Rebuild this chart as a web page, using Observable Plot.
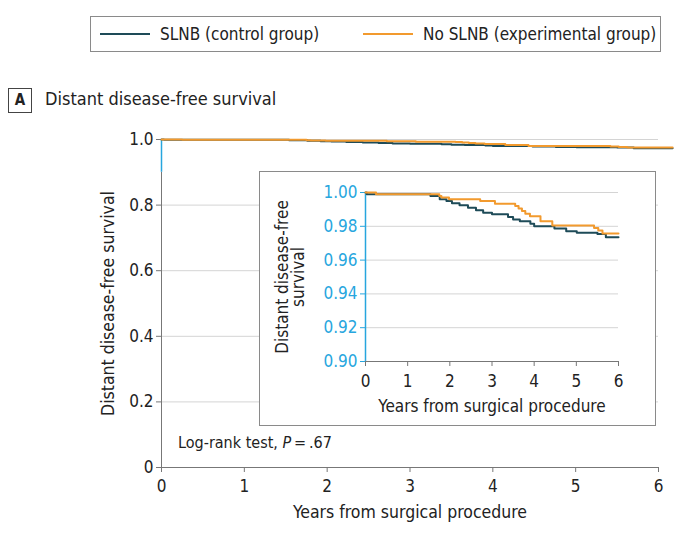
<!DOCTYPE html>
<html><head><meta charset="utf-8">
<script src="https://cdn.jsdelivr.net/npm/d3@7"></script>
<script src="https://cdn.jsdelivr.net/npm/@observablehq/plot@0.6"></script>
<style>
  html,body{margin:0;padding:0;background:#fff;}
  #wrap{position:relative;width:680px;height:544px;overflow:hidden;font-family:"Liberation Sans Narrow","DejaVu Sans Condensed","Roboto Condensed",sans-serif;color:#222;}
  .abs{position:absolute;}
  #legend{left:90px;top:16px;width:569px;height:34px;border:1px solid #8a8a8a;font-size:17px;}
  #legend .item{position:absolute;top:0;height:34px;line-height:34px;white-space:nowrap;}
  #legend .sw{display:inline-block;width:50px;height:0;border-top:2px solid;vertical-align:middle;margin-right:10px;position:relative;top:-1px;}
  #abox{left:8px;top:88px;width:22px;height:23px;border:1px solid #444;font-weight:bold;font-size:15px;text-align:center;line-height:23px;}
  #atitle{left:45px;top:87px;font-size:18px;line-height:24px;white-space:nowrap;}
  #logrank{left:178px;top:433px;font-size:16px;white-space:nowrap;}
  #main{left:0;top:120px;}
  #inset{left:259px;top:171px;border:1.5px solid #8a8a8a;background:#fff;width:395px;height:253px;}
</style>
</head><body>
<div id="wrap">
  <div id="legend" class="abs"></div>
  <div id="abox" class="abs">A</div>
  <div id="atitle" class="abs">Distant disease-free survival</div>
  <div id="main" class="abs"></div>
  <div id="inset" class="abs"></div>
  <div id="logrank" class="abs">Log-rank test, <i>P</i>&thinsp;=&thinsp;.67</div>
</div>
<script>
const groups = ["SLNB (control group)", "No SLNB (experimental group)"];
const colors = ["#1e4b58", "#f29a2e"];
const blue = "#27a6de";

const slnbYears = [0, 0.03, 1.54, 1.76, 1.92, 2.05, 2.23, 2.43, 2.62, 2.79, 3.00, 3.38, 3.50, 3.66, 3.91, 4.00, 4.48, 4.76, 5.01, 5.50, 5.70];
const slnbSurv  = [1.000, 0.999, 0.998, 0.996, 0.995, 0.9937, 0.9924, 0.991, 0.9895, 0.988, 0.9872, 0.9855, 0.984, 0.983, 0.9815, 0.980, 0.9787, 0.977, 0.9762, 0.9755, 0.9735];

const noSlnbYears = [0, 0.25, 1.75, 1.80, 1.98, 2.72, 3.07, 3.55, 3.63, 3.71, 3.79, 3.90, 4.15, 4.43, 5.42, 5.52, 5.62];
const noSlnbSurv  = [1.000, 0.999, 0.998, 0.997, 0.996, 0.995, 0.9933, 0.992, 0.9905, 0.989, 0.9875, 0.986, 0.983, 0.9805, 0.979, 0.9775, 0.9757];

const mainEnd = 6.17;   // follow-up shown beyond last tick in main panel
const insetEnd = 6;

const xTicks = [0, 1, 2, 3, 4, 5, 6];
const mainYTicks = [0, 0.2, 0.4, 0.6, 0.8, 1.0];
const insetYTicks = [0.90, 0.92, 0.94, 0.96, 0.98, 1.00];
const xLabel = "Years from surgical procedure";
const yLabel = "Distant disease-free survival";
const insetYLabel = ["Distant disease-free", "survival"];

function buildRows(end) {
  const rows = [];
  const series = [[slnbYears, slnbSurv], [noSlnbYears, noSlnbSurv]];
  series.forEach(([xs, ys], i) => {
    xs.forEach((t, j) => rows.push({group: groups[i], t, s: ys[j]}));
    rows.push({group: groups[i], t: end, s: ys[ys.length - 1]});
  });
  return rows;
}

// legend
const leg = document.getElementById("legend");
[[9, 0], [272, 1]].forEach(([left, i]) => {
  const d = document.createElement("div");
  d.className = "item";
  d.style.left = left + "px";
  d.innerHTML = `<span class="sw" style="border-color:${colors[i]}"></span>${groups[i]}`;
  leg.appendChild(d);
});

const FONT = '"Liberation Sans Narrow","DejaVu Sans Condensed","Roboto Condensed",sans-serif';
const axisGray = "#777";

const main = Plot.plot({
  width: 680, height: 424,
  marginLeft: 161, marginRight: 22, marginTop: 19, marginBottom: 77,
  x: {domain: [0, 6]},
  y: {domain: [0, 1]},
  color: {domain: groups, range: colors},
  style: {fontFamily: FONT, fontSize: "17px", color: "#222", background: "transparent", overflow: "visible"},
  marks: [
    Plot.gridY(mainYTicks.filter(d => d > 0), {stroke: "#d4d4d4", strokeOpacity: 1}),
    Plot.ruleY([0], {stroke: axisGray}),
    Plot.ruleX([0], {y1: 0, y2: 0.9, stroke: axisGray}),
    Plot.ruleX([0], {y1: 0.9, y2: 1, stroke: blue, strokeWidth: 1.5}),
    Plot.axisX({ticks: xTicks, tickFormat: d => String(d), tickSize: 5, tickPadding: 7, label: null, stroke: axisGray, fill: "#222"}),
    Plot.axisY({ticks: mainYTicks, tickFormat: d => d === 0 ? "0" : d.toFixed(1), tickSize: 5, tickPadding: 3, label: null, stroke: axisGray, fill: "#222"}),
    Plot.text([xLabel], {text: d => d, frameAnchor: "bottom", dy: 50, fontSize: 17.5, fill: "#222"}),
    Plot.text([yLabel], {text: d => d, frameAnchor: "left", textAnchor: "middle", rotate: -90, dx: -53, fontSize: 17.5, fill: "#222"}),
    Plot.line(buildRows(mainEnd), {x: "t", y: "s", z: "group", stroke: "group", curve: "step-after", strokeWidth: 2})
  ]
});
document.getElementById("main").appendChild(main);

const inset = Plot.plot({
  width: 395, height: 253,
  marginLeft: 105, marginRight: 37, marginTop: 20, marginBottom: 64,
  x: {domain: [0, 6]},
  y: {domain: [0.9, 1.0]},
  color: {domain: groups, range: colors},
  style: {fontFamily: FONT, fontSize: "17px", color: "#222", background: "#fff", overflow: "visible"},
  marks: [
    Plot.gridY(insetYTicks.filter(d => d > 0.9), {stroke: "#d4d4d4", strokeOpacity: 1}),
    Plot.ruleY([0.9], {stroke: axisGray}),
    Plot.ruleX([0], {y1: 0.9, y2: 1, stroke: blue, strokeWidth: 1.5}),
    Plot.axisX({ticks: xTicks, tickFormat: d => String(d), tickSize: 5, tickPadding: 8, label: null, stroke: axisGray, fill: "#222"}),
    Plot.axisY({ticks: insetYTicks, tickFormat: d => d.toFixed(2), tickSize: 5, tickPadding: 3, label: null, stroke: blue, fill: blue}),
    Plot.text([xLabel], {text: d => d, frameAnchor: "bottom", dy: 50, fontSize: 17, fill: "#222"}),
    Plot.text([insetYLabel.join("\n")], {text: d => d, frameAnchor: "left", textAnchor: "middle", rotate: -90, dx: -75, fontSize: 17, fill: "#222", lineHeight: 0.95}),
    Plot.line(buildRows(insetEnd), {x: "t", y: "s", z: "group", stroke: "group", curve: "step-after", strokeWidth: 2})
  ]
});
document.getElementById("inset").appendChild(inset);
</script>
</body></html>
